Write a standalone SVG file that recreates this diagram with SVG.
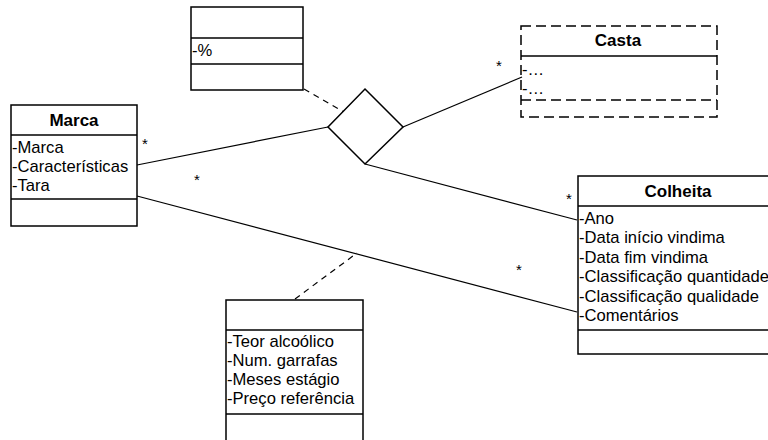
<svg xmlns="http://www.w3.org/2000/svg" width="768" height="440" viewBox="0 0 768 440">
  <style>
    .box { fill: #fff; stroke: #000; stroke-width: 1.5; }
    .dbox { fill: none; stroke: #000; stroke-width: 1.5; stroke-dasharray: 10 5; }
    .sep { stroke: #000; stroke-width: 1.5; }
    .dsep { stroke: #000; stroke-width: 1.5; stroke-dasharray: 10 5; }
    .line { stroke: #000; stroke-width: 1.2; fill: none; }
    .dash { stroke: #000; stroke-width: 1.2; fill: none; stroke-dasharray: 6 5; }
    .title { font-family: "Liberation Sans", Arial, sans-serif; font-size: 17px; font-weight: bold; text-anchor: middle; }
    .attr { font-family: "Liberation Sans", Arial, sans-serif; font-size: 16.6px; }
    .mult { font-family: "Liberation Sans", Arial, sans-serif; font-size: 15px; }
  </style>

  <!-- connectors -->
  <g id="connectors">
    <line class="line" x1="137" y1="165" x2="328" y2="127"/>
    <line class="line" x1="403" y1="127" x2="522" y2="77"/>
    <line class="line" x1="365" y1="164" x2="577" y2="220"/>
    <line class="line" x1="137" y1="196" x2="577" y2="312"/>
    <line class="dash" x1="304" y1="89" x2="344" y2="112"/>
    <line class="dash" x1="295" y1="299" x2="357" y2="253"/>
    <text class="mult" x="142" y="149">*</text>
    <text class="mult" x="194" y="185">*</text>
    <text class="mult" x="496" y="71">*</text>
    <text class="mult" x="566" y="204">*</text>
    <text class="mult" x="516" y="275">*</text>
  </g>

  <!-- n-ary association diamond -->
  <g id="diamond">
    <polygon points="365,89 403,127 365,164 328,127" fill="#fff" stroke="#000" stroke-width="1.5"/>
  </g>

  <g id="marca">
    <rect class="box" x="11" y="105" width="126" height="121"/>
    <line class="sep" x1="11" y1="135" x2="137" y2="135"/>
    <line class="sep" x1="11" y1="199" x2="137" y2="199"/>
    <text class="title" x="74" y="126">Marca</text>
    <text class="attr" x="12" y="153">-Marca</text>
    <text class="attr" x="12" y="172">-Características</text>
    <text class="attr" x="12" y="191">-Tara</text>
  </g>

  <g id="assoc-class">
    <rect class="box" x="191" y="7" width="112" height="83"/>
    <line class="sep" x1="191" y1="38" x2="303" y2="38"/>
    <line class="sep" x1="191" y1="64" x2="303" y2="64"/>
    <text class="attr" x="192" y="56">-%</text>
  </g>

  <g id="casta">
    <rect class="dbox" x="521" y="26" width="196" height="91"/>
    <line class="sep" x1="521" y1="56" x2="717" y2="56"/>
    <line class="dsep" x1="521" y1="100" x2="717" y2="100"/>
    <text class="title" x="618" y="46">Casta</text>
    <text class="attr" x="522" y="75">-…</text>
    <text class="attr" x="522" y="94">-…</text>
  </g>

  <g id="colheita">
    <rect class="box" x="578" y="176" width="210" height="178"/>
    <line class="sep" x1="578" y1="206" x2="788" y2="206"/>
    <line class="sep" x1="578" y1="330" x2="788" y2="330"/>
    <text class="title" x="678" y="197">Colheita</text>
    <text class="attr" x="579" y="224">-Ano</text>
    <text class="attr" x="579" y="243">-Data início vindima</text>
    <text class="attr" x="579" y="263">-Data fim vindima</text>
    <text class="attr" x="579" y="282">-Classificação quantidade</text>
    <text class="attr" x="579" y="302">-Classificação qualidade</text>
    <text class="attr" x="579" y="321">-Comentários</text>
  </g>

  <g id="vinho">
    <rect class="box" x="226" y="300" width="137" height="150"/>
    <line class="sep" x1="226" y1="330" x2="363" y2="330"/>
    <line class="sep" x1="226" y1="414" x2="363" y2="414"/>
    <text class="attr" x="227" y="347">-Teor alcoólico</text>
    <text class="attr" x="227" y="366">-Num. garrafas</text>
    <text class="attr" x="227" y="385">-Meses estágio</text>
    <text class="attr" x="227" y="404">-Preço referência</text>
  </g>
</svg>
